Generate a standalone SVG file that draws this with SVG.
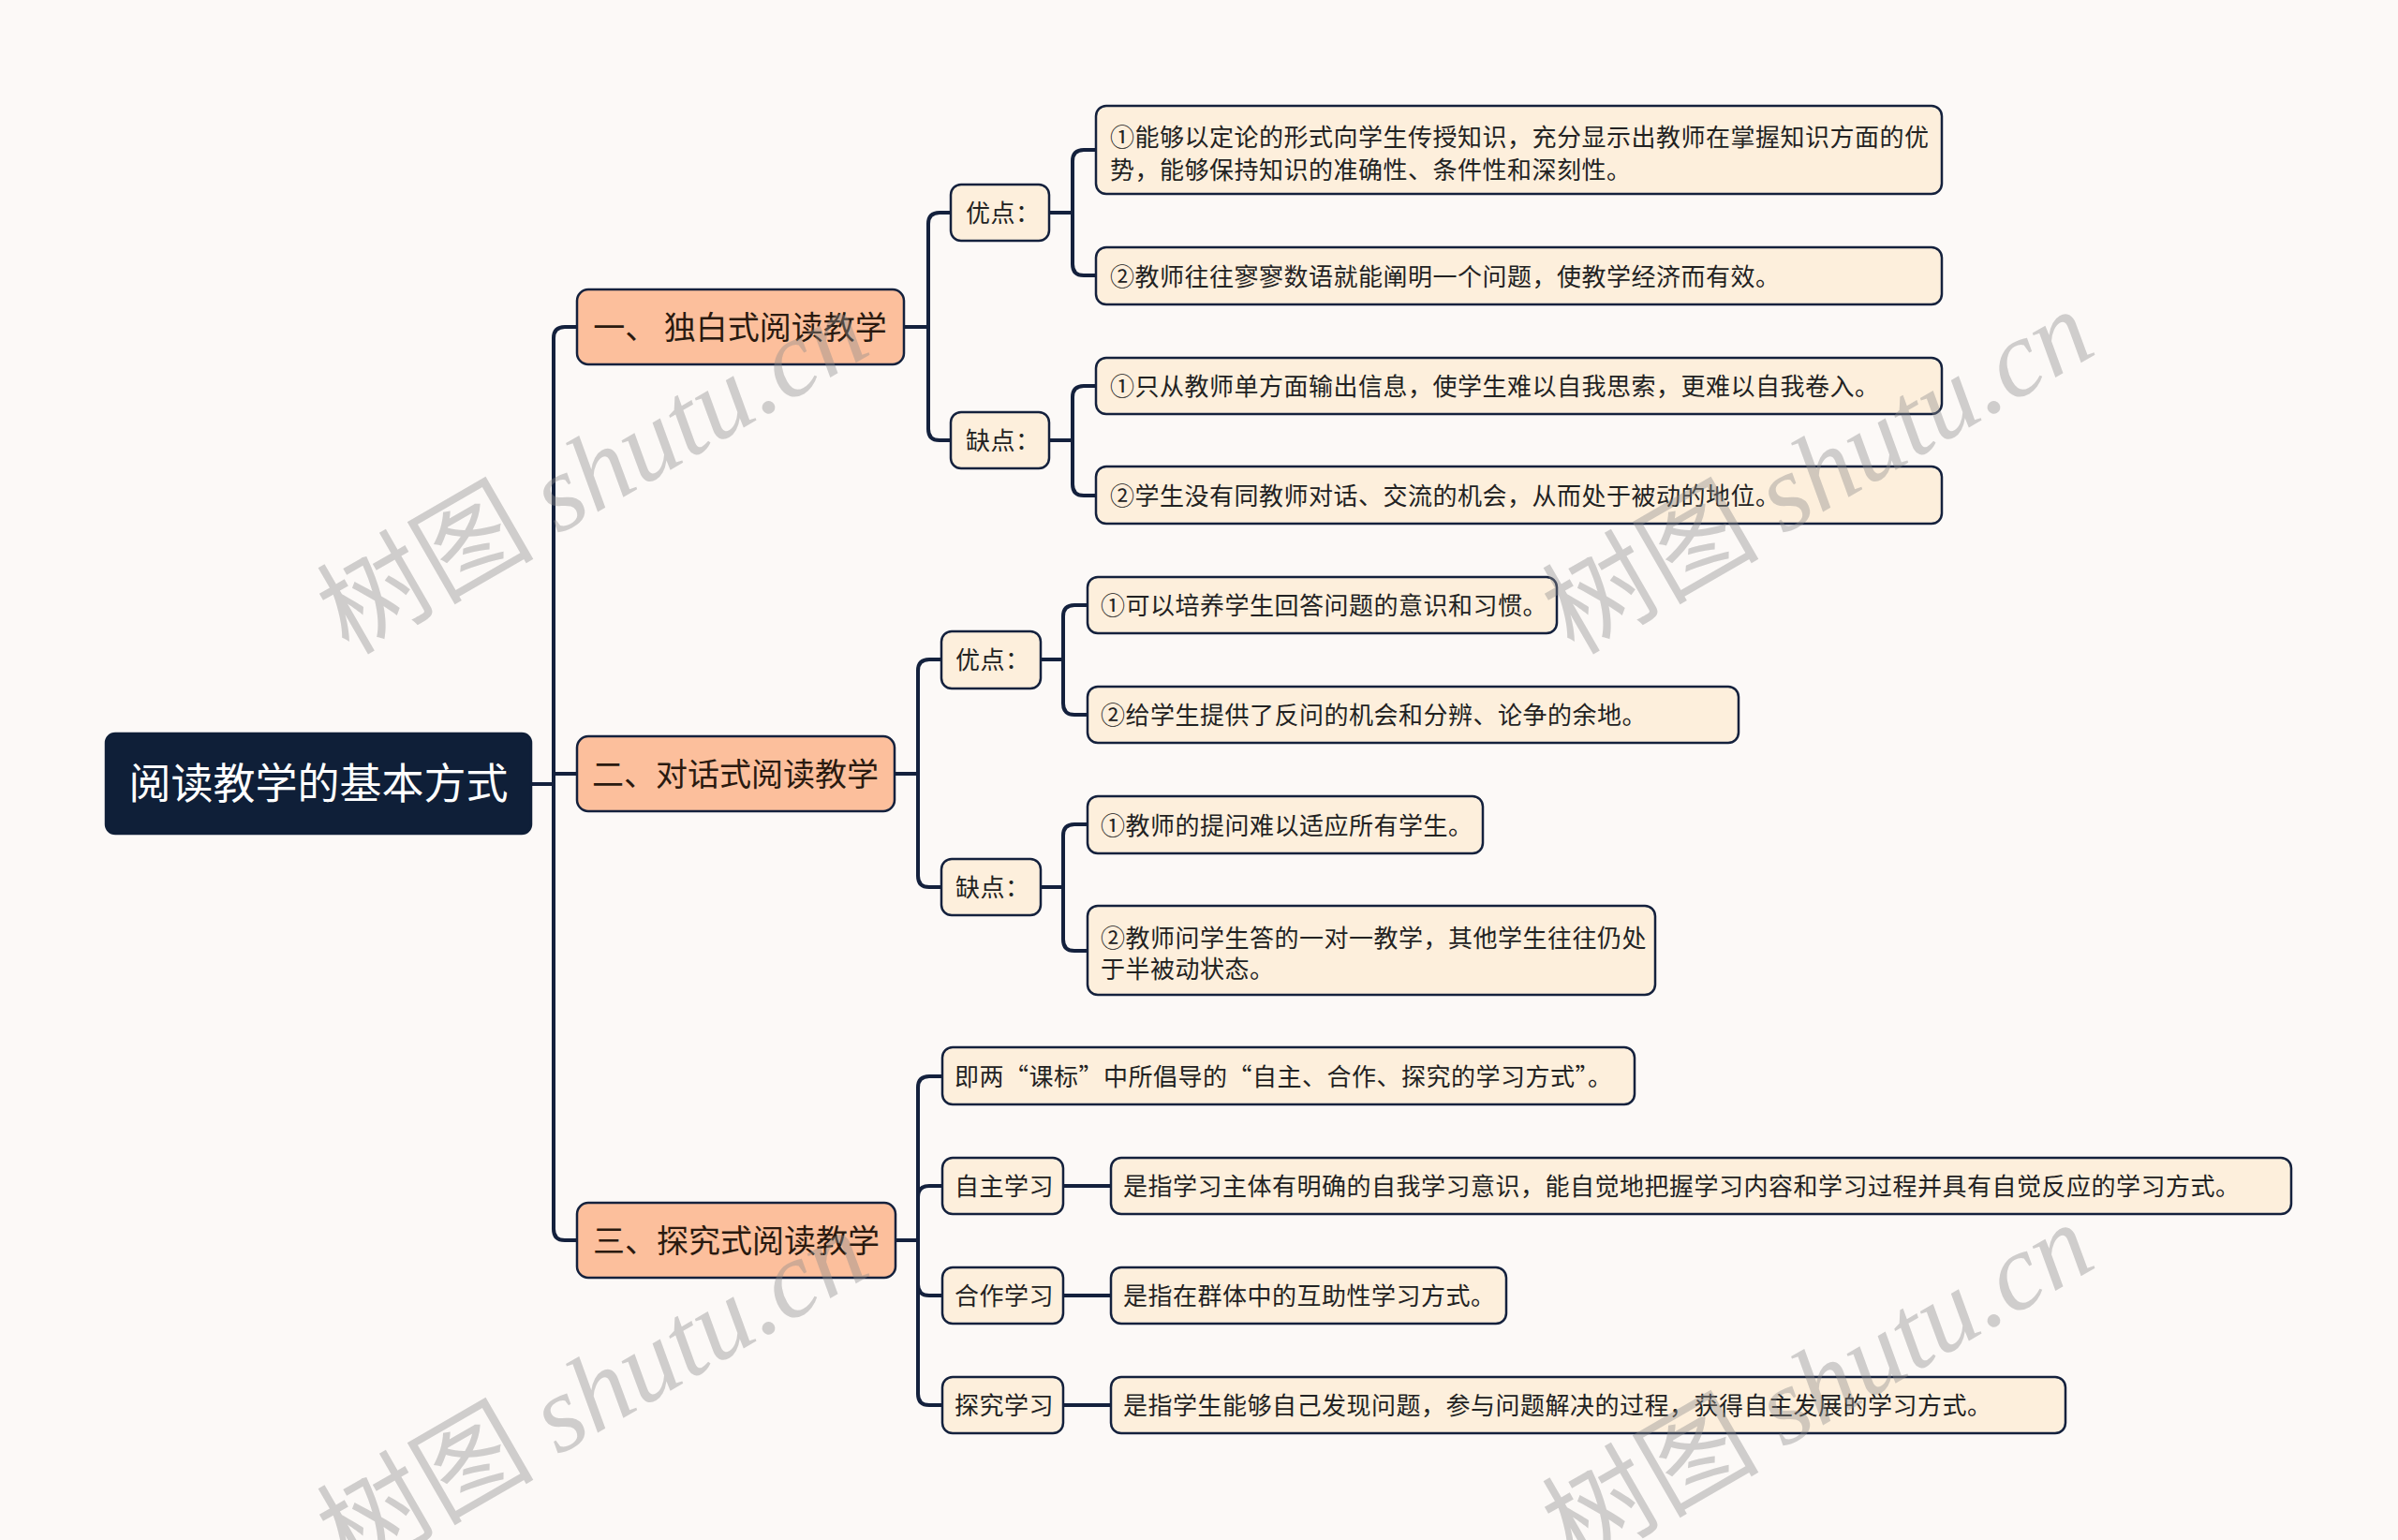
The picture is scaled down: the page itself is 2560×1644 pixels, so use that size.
<svg xmlns="http://www.w3.org/2000/svg" width="2560" height="1644" viewBox="0 0 2560 1644">
<style>
.bg{fill:#fcf9f7}
.root{fill:#0f1f38;stroke:#0f1f38;stroke-width:2.5}
.l1{fill:#fcbf9c;stroke:#14213d;stroke-width:2.5}
.l2{fill:#fdefdc;stroke:#14213d;stroke-width:2.5}
.conn{fill:none;stroke:#14213d;stroke-width:4;stroke-linecap:round;stroke-linejoin:round}
text{font-family:"Noto Sans CJK SC","Noto Sans",sans-serif}
.tr{font-size:45px;fill:#ffffff;text-anchor:middle}
.t1{font-size:34px;fill:#2a1a10;text-anchor:middle}
.t2{font-size:26px;fill:#222222;letter-spacing:0.5px}
.wm{font-size:116px;fill:#8c8c8c;fill-opacity:0.4}
.wml{font-family:"Liberation Serif",serif;font-style:italic}
</style>
<rect class="bg" x="0" y="0" width="2560" height="1644"/>
<g id="connectors">
<path class="conn" d="M567,837 H591 M591,837 V361 Q591,349 603,349 H616 M591,837 V1312 Q591,1324 603,1324 H616 M591,826 H616"/>
<path class="conn" d="M965,349 H991 M991,349 V239 Q991,227 1003,227 H1015 M991,349 V458 Q991,470 1003,470 H1015"/>
<path class="conn" d="M1120,227 H1145 M1145,227 V172 Q1145,160 1157,160 H1170 M1145,227 V282 Q1145,294 1157,294 H1170"/>
<path class="conn" d="M1120,470 H1145 M1145,470 V424 Q1145,412 1157,412 H1170 M1145,470 V517 Q1145,529 1157,529 H1170"/>
<path class="conn" d="M955,826 H980 M980,826 V716 Q980,704 992,704 H1005 M980,826 V935 Q980,947 992,947 H1005"/>
<path class="conn" d="M1111,704 H1135 M1135,704 V658 Q1135,646 1147,646 H1161 M1135,704 V751 Q1135,763 1147,763 H1161"/>
<path class="conn" d="M1111,947 H1135 M1135,947 V892 Q1135,880 1147,880 H1161 M1135,947 V1003 Q1135,1015 1147,1015 H1161"/>
<path class="conn" d="M956,1324 H980 M980,1324 V1161 Q980,1149 992,1149 H1006 M980,1324 V1278 Q980,1266 992,1266 H1006 M980,1324 V1371 Q980,1383 992,1383 H1006 M980,1324 V1488 Q980,1500 992,1500 H1006"/>
<path class="conn" d="M1135,1266 H1186 M1135,1383 H1186 M1135,1500 H1186"/>
</g>
<g id="root"><rect class="root" x="113" y="783" width="454" height="107" rx="10"/><text class="tr" x="340" y="853">阅读教学的基本方式</text></g>
<g id="n1"><rect class="l1" x="616" y="309" width="349" height="80" rx="12"/><text class="t1" x="790" y="362" xml:space="preserve">一、 独白式阅读教学</text></g>
<g id="n1-adv"><rect class="l2" x="1015" y="197" width="105" height="60" rx="11"/><text class="t2" x="1031" y="237">优点：</text></g>
<g id="n1-adv-1"><rect class="l2" x="1170" y="113" width="903" height="94" rx="11"/><text class="t2" x="1185" y="156">①能够以定论的形式向学生传授知识，充分显示出教师在掌握知识方面的优</text><text class="t2" x="1185" y="191">势，能够保持知识的准确性、条件性和深刻性。</text></g>
<g id="n1-adv-2"><rect class="l2" x="1170" y="264" width="903" height="61" rx="11"/><text class="t2" x="1185" y="305">②教师往往寥寥数语就能阐明一个问题，使教学经济而有效。</text></g>
<g id="n1-dis"><rect class="l2" x="1015" y="440" width="105" height="60" rx="11"/><text class="t2" x="1031" y="480">缺点：</text></g>
<g id="n1-dis-1"><rect class="l2" x="1170" y="382" width="903" height="60" rx="11"/><text class="t2" x="1185" y="422">①只从教师单方面输出信息，使学生难以自我思索，更难以自我卷入。</text></g>
<g id="n1-dis-2"><rect class="l2" x="1170" y="498" width="903" height="61" rx="11"/><text class="t2" x="1185" y="539">②学生没有同教师对话、交流的机会，从而处于被动的地位。</text></g>
<g id="n2"><rect class="l1" x="616" y="786" width="339" height="80" rx="12"/><text class="t1" x="785" y="839">二、对话式阅读教学</text></g>
<g id="n2-adv"><rect class="l2" x="1005" y="674" width="106" height="61" rx="11"/><text class="t2" x="1020" y="714">优点：</text></g>
<g id="n2-adv-1"><rect class="l2" x="1161" y="616" width="501" height="60" rx="11"/><text class="t2" x="1175" y="656">①可以培养学生回答问题的意识和习惯。</text></g>
<g id="n2-adv-2"><rect class="l2" x="1161" y="733" width="695" height="60" rx="11"/><text class="t2" x="1175" y="773">②给学生提供了反问的机会和分辨、论争的余地。</text></g>
<g id="n2-dis"><rect class="l2" x="1005" y="917" width="106" height="60" rx="11"/><text class="t2" x="1020" y="957">缺点：</text></g>
<g id="n2-dis-1"><rect class="l2" x="1161" y="850" width="422" height="61" rx="11"/><text class="t2" x="1175" y="891">①教师的提问难以适应所有学生。</text></g>
<g id="n2-dis-2"><rect class="l2" x="1161" y="967" width="606" height="95" rx="11"/><text class="t2" x="1175" y="1011">②教师问学生答的一对一教学，其他学生往往仍处</text><text class="t2" x="1175" y="1044">于半被动状态。</text></g>
<g id="n3"><rect class="l1" x="616" y="1284" width="340" height="80" rx="12"/><text class="t1" x="786" y="1337">三、探究式阅读教学</text></g>
<g id="n3-a"><rect class="l2" x="1006" y="1118" width="739" height="61" rx="11"/><text class="t2" x="1019" y="1159">即两“课标”中所倡导的“自主、合作、探究的学习方式”。</text></g>
<g id="n3-b"><rect class="l2" x="1006" y="1236" width="129" height="60" rx="11"/><text class="t2" x="1019" y="1276">自主学习</text></g>
<g id="n3-b-1"><rect class="l2" x="1186" y="1236" width="1260" height="60" rx="11"/><text class="t2" x="1199" y="1276">是指学习主体有明确的自我学习意识，能自觉地把握学习内容和学习过程并具有自觉反应的学习方式。</text></g>
<g id="n3-c"><rect class="l2" x="1006" y="1353" width="129" height="60" rx="11"/><text class="t2" x="1019" y="1393">合作学习</text></g>
<g id="n3-c-1"><rect class="l2" x="1186" y="1353" width="422" height="60" rx="11"/><text class="t2" x="1199" y="1393">是指在群体中的互助性学习方式。</text></g>
<g id="n3-d"><rect class="l2" x="1006" y="1470" width="129" height="60" rx="11"/><text class="t2" x="1019" y="1510">探究学习</text></g>
<g id="n3-d-1"><rect class="l2" x="1186" y="1470" width="1019" height="60" rx="11"/><text class="t2" x="1199" y="1510">是指学生能够自己发现问题，参与问题解决的过程，获得自主发展的学习方式。</text></g>
<g id="watermarks">
<text class="wm" x="372" y="700" transform="rotate(-30 372 700)">树图 <tspan class="wml">shutu.cn</tspan></text>
<text class="wm" x="1680" y="700" transform="rotate(-30 1680 700)">树图 <tspan class="wml">shutu.cn</tspan></text>
<text class="wm" x="372" y="1683" transform="rotate(-30 372 1683)">树图 <tspan class="wml">shutu.cn</tspan></text>
<text class="wm" x="1680" y="1675" transform="rotate(-30 1680 1675)">树图 <tspan class="wml">shutu.cn</tspan></text>
</g>
</svg>
